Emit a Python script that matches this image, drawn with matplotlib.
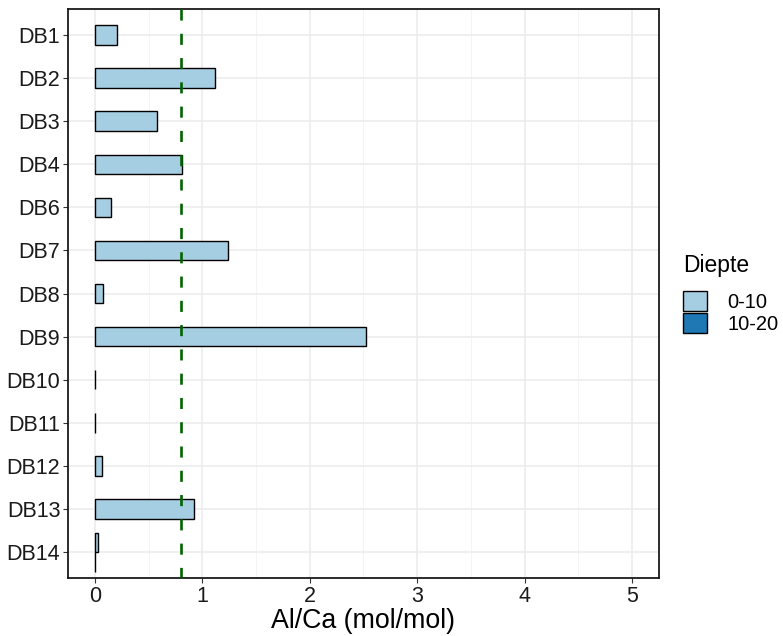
import numpy as np
import matplotlib.pyplot as plt
from matplotlib.patches import Patch

plt.rcParams['font.family'] = ['Liberation Sans', 'DejaVu Sans']

# data
sites = ['DB1', 'DB2', 'DB3', 'DB4', 'DB6', 'DB7', 'DB8', 'DB9',
         'DB10', 'DB11', 'DB12', 'DB13', 'DB14']
alca_0_10 = [0.21, 1.12, 0.58, 0.81, 0.15, 1.24, 0.08, 2.52,
             0.006, 0.006, 0.065, 0.92, 0.025]
# only DB14 has a 10-20 sample
alca_10_20 = {'DB14': 0.004}
threshold = 0.8
depths = ['0-10', '10-20']
colors = ['#A6CEE3', '#1F78B4']

fig = plt.figure(figsize=(7.83, 6.36), dpi=100)
ax = fig.add_axes([0.0868, 0.0912, 0.7548, 0.8946])

n = len(sites)
ypos = np.arange(n, 0, -1)
w = 0.45

for i, s in enumerate(sites):
    y = ypos[i]
    if s in alca_10_20:
        ax.barh(y + w / 2, alca_0_10[i], height=w, color=colors[0],
                edgecolor='black', linewidth=1.0, zorder=3)
        ax.barh(y - w / 2, alca_10_20[s], height=w, color=colors[1],
                edgecolor='black', linewidth=1.0, zorder=3)
    else:
        ax.barh(y, alca_0_10[i], height=w, color=colors[0],
                edgecolor='black', linewidth=1.0, zorder=3)

# threshold line, drawn top to bottom so the dashes start at the top
ax.plot([threshold, threshold], [n + 0.6, 0.4], color='#006400',
        linewidth=1.9, linestyle=(0, (4.2, 5.0)), zorder=4)

ax.set_xlim(-0.25, 5.25)
ax.set_ylim(0.4, n + 0.6)
ax.set_xticks(range(0, 6))
ax.set_xticks(np.arange(0.5, 5.5, 1.0), minor=True)
ax.set_yticks(ypos)
ax.set_yticklabels(sites)

ax.grid(True, which='major', color='#EBEBEB', linewidth=1.1, zorder=0)
ax.grid(True, which='minor', axis='x', color='#F2F2F2', linewidth=0.6, zorder=0)
ax.set_axisbelow(True)
ax.tick_params(which='major', labelsize=15.5, length=3.5, width=0.8,
               color='#333333', labelcolor='#1a1a1a', pad=2)
ax.tick_params(which='minor', length=0)
for sp in ax.spines.values():
    sp.set_linewidth(1.3)
    sp.set_color('#1a1a1a')

ax.set_xlabel('Al/Ca (mol/mol)', fontsize=19.3, labelpad=1)

handles = [Patch(facecolor=c, edgecolor='black', linewidth=1.0) for c in colors]
leg = fig.legend(handles, depths, title='Diepte', loc='center left',
                 bbox_to_anchor=(0.872, 0.538), frameon=False,
                 fontsize=14.5, title_fontsize=16.5,
                 handlelength=1.2, handleheight=1.2, labelspacing=0.05,
                 handletextpad=1.0, borderaxespad=0, borderpad=0)
leg._legend_box.align = 'left'
leg._legend_box.sep = 10

fig.savefig('out.png', dpi=100)
